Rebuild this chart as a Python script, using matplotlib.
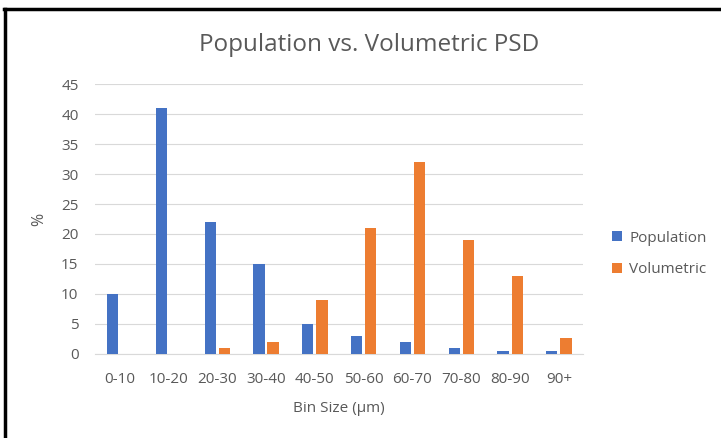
import numpy as np
import matplotlib.pyplot as plt
from matplotlib.lines import Line2D

# --- data ---
bins = ["0-10", "10-20", "20-30", "30-40", "40-50", "50-60",
        "60-70", "70-80", "80-90", "90+"]
population = [10, 41, 22, 15, 5, 3, 2, 1, 0.5, 0.5]
volumetric = [0, 0, 1, 2, 9, 21, 32, 19, 13, 2.7]

plt.rcParams["font.family"] = ["Open Sans", "DejaVu Sans"]
grey = "#595959"

fig = plt.figure(figsize=(7.21, 4.38), dpi=100)
ax = fig.add_axes([0.132, 0.192, 0.677, 0.616])

x = np.arange(len(bins))
w = 0.23
off = 0.145
ax.bar(x - off, population, w, color="#4472C4", label="Population", zorder=3)
ax.bar(x + off, volumetric, w, color="#ED7D31", label="Volumetric", zorder=3)

ax.set_xlim(-0.5, len(bins) - 0.5)
ax.set_ylim(0, 45)
ax.set_yticks(range(0, 46, 5))
ax.set_xticks(x)
ax.set_xticklabels(bins)
ax.tick_params(axis="both", length=0, labelsize=11, colors=grey)
ax.tick_params(axis="x", pad=13)
ax.tick_params(axis="y", pad=12)
ax.grid(axis="y", color="#D9D9D9", linewidth=0.8, zorder=0)
for s in ["top", "right", "left"]:
    ax.spines[s].set_visible(False)
ax.spines["bottom"].set_color("#D9D9D9")

# title is centred on the whole chart area, not the plot area
fig.text(0.512, 0.897, "Population vs. Volumetric PSD", fontsize=17.5,
         color=grey, ha="center", va="center")
ax.set_xlabel("Bin Size (µm)", fontsize=11, color=grey, labelpad=10)
ax.set_ylabel("%", fontsize=11.5, color=grey, labelpad=10)

leg = ax.legend(loc="center left", bbox_to_anchor=(1.03, 0.37), frameon=False,
                fontsize=11, handlelength=0.65, handleheight=0.65,
                labelspacing=1.1, handletextpad=0.5)
for t in leg.get_texts():
    t.set_color(grey)

# black frame on the left and top of the screenshot
fig.add_artist(Line2D([0.0065, 0.0065], [0, 0.98], color="black",
                      linewidth=2.5, transform=fig.transFigure))
fig.add_artist(Line2D([0.005, 1], [0.979, 0.979], color="black",
                      linewidth=2.5, transform=fig.transFigure))

plt.savefig("out.png", dpi=100)
